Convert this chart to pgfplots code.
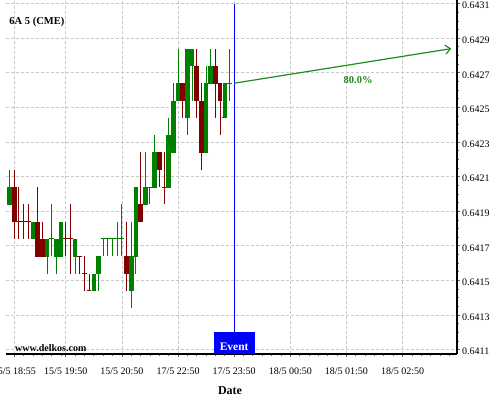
\documentclass[border=0pt]{standalone}
\usepackage{pgfplots}
\pgfplotsset{compat=1.18}
\usepackage{pgfplotstable}
\usepackage{fontspec}
\setmainfont{Liberation Serif}
\usetikzlibrary{arrows.meta}
\definecolor{cgreen}{RGB}{0,128,0}
\definecolor{cred}{RGB}{128,0,0}
\definecolor{cblue}{RGB}{0,0,255}
\definecolor{cgrid}{RGB}{200,200,200}
\definecolor{carrow}{RGB}{30,140,30}

\pgfplotstableread{
i o h l c
-1 0.64194 0.64214 0.64194 0.64204
4 0.64174 0.64184 0.64174 0.64184
7 0.64164 0.64174 0.64154 0.64174
8 0.64174 0.64194 0.64164 0.64174
9 0.64164 0.64174 0.64154 0.64174
10 0.64164 0.64184 0.64164 0.64184
13 0.64164 0.64174 0.64154 0.64174
17 0.64144 0.64154 0.64144 0.64154
18 0.64154 0.64164 0.64144 0.64164
19 0.64174 0.64174 0.64164 0.64174
20 0.64174 0.64174 0.64164 0.64174
21 0.64174 0.64174 0.64164 0.64174
22 0.64174 0.64184 0.64164 0.64174
23 0.64174 0.64194 0.64164 0.64174
25 0.64144 0.64184 0.64134 0.64164
26 0.64164 0.64204 0.64154 0.64204
28 0.64194 0.64224 0.64194 0.64204
29 0.64204 0.64204 0.64194 0.64204
30 0.64204 0.64234 0.64204 0.64224
33 0.64204 0.64244 0.64204 0.64234
34 0.64224 0.64264 0.64224 0.64254
35 0.64254 0.64284 0.64254 0.64264
37 0.64244 0.64284 0.64234 0.64284
38 0.64274 0.64284 0.64254 0.64284
41 0.64224 0.64274 0.64224 0.64264
42 0.64264 0.64284 0.64264 0.64274
45 0.64244 0.64264 0.64244 0.64264
46 0.64264 0.64284 0.64254 0.64264
}\greendata

\pgfplotstableread{
i o h l c
0 0.64204 0.64214 0.64174 0.64184
1 0.64184 0.64204 0.64174 0.64184
2 0.64184 0.64194 0.64174 0.64184
3 0.64184 0.64194 0.64174 0.64184
5 0.64184 0.64204 0.64164 0.64164
6 0.64174 0.64184 0.64164 0.64164
11 0.64174 0.64184 0.64164 0.64174
12 0.64174 0.64194 0.64154 0.64174
14 0.64164 0.64164 0.64154 0.64164
15 0.64154 0.64164 0.64144 0.64154
16 0.64144 0.64154 0.64144 0.64144
24 0.64164 0.64184 0.64144 0.64154
27 0.64194 0.64224 0.64184 0.64184
31 0.64224 0.64224 0.64204 0.64214
32 0.64204 0.64224 0.64194 0.64204
36 0.64264 0.64264 0.64244 0.64254
39 0.64274 0.64284 0.64244 0.64254
40 0.64254 0.64264 0.64214 0.64224
43 0.64274 0.64284 0.64244 0.64264
44 0.64264 0.64264 0.64234 0.64254
}\reddata

\begin{document}
\begin{tikzpicture}
\useasboundingbox (0,0) rectangle (500bp,400bp);
\begin{axis}[
  at={(6bp,46bp)}, anchor=south west,
  scale only axis, width=451bp, height=354bp,
  xmin=-1.775, xmax=94.63, ymin=0.641075, ymax=0.643121,
  axis x line*=bottom, axis y line*=right,
  axis line style={line width=1.2bp, black},
  tick align=outside,
  major tick length=3bp, minor tick length=2bp,
  tick style={black!60, line width=0.8bp},
  xtick={0,11,23,35,47,59,71,83},
  xticklabels={15/5 18:55, 15/5 19:50, 15/5 20:50, 17/5 22:50, 17/5 23:50, 18/5 00:50, 18/5 01:50, 18/5 02:50},
  minor xtick={2,4,6,8,10,13,15,17,19,21,25,27,29,31,33,37,39,41,43,45,49,51,53,55,57,61,63,65,67,69,73,75,77,79,81,85,87,89,91,93},
  ytick={0.6411,0.6413,0.6415,0.6417,0.6419,0.6421,0.6423,0.6425,0.6427,0.6429,0.6431},
  yticklabels={0.6411,0.6413,0.6415,0.6417,0.6419,0.6421,0.6423,0.6425,0.6427,0.6429,0.6431},
  minor y tick num=3,
  xmajorgrids, ymajorgrids,
  major grid style={cgrid, dash pattern=on 3bp off 2bp, line width=0.8bp},
  xticklabel style={font=\fontsize{10bp}{12bp}\selectfont, anchor=north, inner sep=0pt, yshift=-11bp},
  yticklabel style={font=\fontsize{10bp}{12bp}\selectfont, anchor=west, inner sep=0pt, xshift=2bp, yshift=-2bp},
  clip=false,
]
% wicks
\addplot[only marks, mark=-, mark size=0pt, mark options={draw=none, fill=none}, color=cgreen,
  error bars/.cd, y dir=plus, y explicit, error mark=none,
  error bar style={draw=cgreen, line width=1bp}]
  table[x=i, y=l, y error plus expr=\thisrow{h}-\thisrow{l}] {\greendata};
\addplot[only marks, mark=-, mark size=0pt, mark options={draw=none, fill=none}, color=cred,
  error bars/.cd, y dir=plus, y explicit, error mark=none,
  error bar style={draw=cred, line width=1bp}]
  table[x=i, y=l, y error plus expr=\thisrow{h}-\thisrow{l}] {\reddata};
% bodies (dash marks at open = close for doji)
\addplot[only marks, mark=-, mark size=2.33bp, color=cgreen, mark options={line width=1bp},
  error bars/.cd, y dir=plus, y explicit, error mark=none,
  error bar style={draw=cgreen, line width=4.6bp}]
  table[x=i, y=o, y error plus expr=\thisrow{c}-\thisrow{o}] {\greendata};
\addplot[only marks, mark=-, mark size=2.33bp, color=cred, mark options={line width=1bp},
  error bars/.cd, y dir=plus, y explicit, error mark=none,
  error bar style={draw=cred, line width=4.6bp}]
  table[x=i, y=c, y error plus expr=\thisrow{o}-\thisrow{c}] {\reddata};

\draw[cblue, line width=1bp] (axis cs:47,0.6431) -- (axis cs:47,0.641075);
\node[fill=cblue, minimum width=40.7bp, minimum height=22.3bp, inner sep=0pt, anchor=south] at (axis cs:47,0.641075) {};
\node[white, font=\bfseries\fontsize{11.5bp}{13bp}\selectfont, anchor=base, inner sep=0pt, yshift=3.3bp] at (axis cs:47,0.641075) {Event};
\draw[carrow, line width=1.2bp, -{Straight Barb[length=5bp,width=9bp]}] (axis cs:47,0.64264) -- (axis cs:93.4,0.64284);
\node[carrow, font=\bfseries\fontsize{10.5bp}{12bp}\selectfont] at (axis cs:73.5,0.64266) {80.0\%};
\node[anchor=base west, font=\bfseries\fontsize{10.5bp}{12bp}\selectfont, inner sep=0pt] at (rel axis cs:0.0073,0.932) {6A 5 (CME)};
\node[anchor=base west, font=\bfseries\fontsize{10bp}{12bp}\selectfont, inner sep=0pt] at (rel axis cs:0.02,0.0065) {www.delkos.com};
\node[anchor=base, font=\bfseries\fontsize{12bp}{14bp}\selectfont, inner sep=0pt] at (rel axis cs:0.4967,-0.113) {Date};
\end{axis}
\end{tikzpicture}
\end{document}
